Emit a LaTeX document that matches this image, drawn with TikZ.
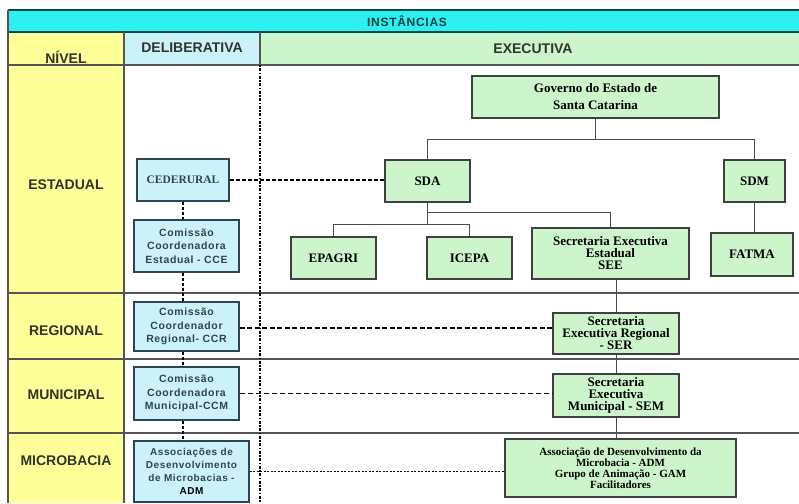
\documentclass[tikz,border=0pt]{standalone}
\usepackage{fontspec}
\setmainfont{Liberation Serif}
\setsansfont{Liberation Sans}
\newfontfamily\delibfont[LetterSpace=6]{Liberation Sans}
\newfontfamily\headfont[LetterSpace=6]{Liberation Sans}
\definecolor{barcyan}{HTML}{2EF0F0}
\definecolor{lightcyan}{HTML}{CBF2F8}
\definecolor{lightgreen}{HTML}{CCF5CC}
\definecolor{lightyellow}{HTML}{FFFF99}
\definecolor{rowline}{HTML}{555555}
\definecolor{labeltext}{HTML}{33332A}
\definecolor{delibtext}{HTML}{2F4452}
\tikzset{
  level/.style={font=\sffamily\bfseries\fontsize{14}{16}\selectfont,text=labeltext},
  delib/.style={draw=delibtext,line width=1.1pt,fill=lightcyan,inner sep=0pt,align=center,
    text=delibtext,font=\delibfont\bfseries\fontsize{10.5}{13.5}\selectfont},
  exec/.style={draw=black!75,line width=1.1pt,fill=lightgreen,inner sep=0pt,align=center,
    font=\rmfamily\bfseries\fontsize{13}{12}\selectfont},
  tree/.style={draw=black!70,line width=1pt},
  link/.style={line width=1.3pt,dash pattern=on 4pt off 2pt},
  chain/.style={line width=1.8pt,dash pattern=on 3pt off 2pt},
}
\begin{document}
\begin{tikzpicture}[x=1pt,y=-1pt]
\useasboundingbox (0,0) rectangle (799,503);
%fundo
\fill[barcyan] (8,10) rectangle (799,32);
\fill[lightyellow] (8,32) rectangle (124,503);
\fill[lightcyan] (124,32) rectangle (260,65);
\fill[lightgreen] (260,32) rectangle (799,65);
\draw[line width=1.5pt,draw=teal!60!black] (8,10) -- (799,10);
\draw[line width=1.5pt,draw=teal!60!black] (8,32) -- (799,32);
\draw[line width=1.5pt,draw=rowline] (8,10) -- (8,503);
\draw[line width=1.5pt,draw=rowline] (124,32) -- (124,503);
\draw[line width=1.2pt,draw=rowline] (260,32) -- (260,65);
\foreach \y in {65,293,359,433}
  \draw[line width=1.5pt,draw=rowline] (8,\y) -- (799,\y);
\draw[line width=1.3pt,dash pattern=on 1.5pt off 1.5pt on 3pt off 1.5pt] (260,65) -- (260,503);
%cabeçalho
\node (inst) at (407,21) {\headfont\bfseries\fontsize{12}{14}\selectfont\textcolor{teal!50!black}{INSTÂNCIAS}};
\node[level] (nivel) at (66,57) {NÍVEL};
\node[level] (delib) at (192,48) {DELIBERATIVA};
\node[level] (exec) at (533,49) {EXECUTIVA};
%níveis
\node[level] (estadual) at (66,185) {ESTADUAL};
\node[level] (regional) at (66,331) {REGIONAL};
\node[level] (municipal) at (66,395) {MUNICIPAL};
\node[level] (microbacia) at (66,461) {MICROBACIA};
%deliberativa
\node[delib,minimum width=92,minimum height=42,font=\rmfamily\bfseries\fontsize{11.5}{13}\selectfont] (ceder) at (183,180) {CEDERURAL};
\node[delib,minimum width=105,minimum height=52] (cce) at (186.5,246) {Comissão\\Coordenadora\\Estadual - CCE};
\node[delib,minimum width=105,minimum height=49] (ccr) at (186.5,326.5) {Comissão\\Coordenador\\Regional- CCR};
\node[delib,minimum width=105,minimum height=53] (ccm) at (186.5,393.5) {Comissão\\Coordenadora\\Municipal-CCM};
\node[delib,minimum width=115,minimum height=61,font=\delibfont\bfseries\fontsize{10}{13}\selectfont] (admd) at (191.5,471.5) {Associações de\\Desenvolvimento\\de Microbacias -\\\textcolor{black}{ADM}};
%executiva
\node[exec,minimum width=247,minimum height=42,font=\rmfamily\bfseries\fontsize{13}{17}\selectfont] (gov) at (595.5,97) {Governo do Estado de\\Santa Catarina};
\node[exec,minimum width=85,minimum height=42] (sda) at (427.5,181) {SDA};
\node[exec,minimum width=61,minimum height=42] (sdm) at (754.5,181) {SDM};
\node[exec,minimum width=85,minimum height=42] (epagri) at (333.5,258) {EPAGRI};
\node[exec,minimum width=85,minimum height=42] (icepa) at (469.5,258) {ICEPA};
\node[exec,minimum width=157,minimum height=51] (see) at (610.5,253.5) {Secretaria Executiva\\Estadual\\SEE};
\node[exec,minimum width=82,minimum height=43] (fatma) at (752,254.5) {FATMA};
\node[exec,minimum width=126,minimum height=41] (ser) at (616,333.5) {Secretaria\\Executiva Regional\\- SER};
\node[exec,minimum width=126,minimum height=43] (sem) at (616,395.5) {Secretaria\\Executiva\\Municipal - SEM};
\node[exec,minimum width=231,minimum height=58,font=\rmfamily\bfseries\fontsize{11}{11}\selectfont] (adme) at (620.5,468) {Associação de Desenvolvimento da\\Microbacia - ADM\\Grupo de Animação - GAM\\Facilitadores};
%árvore
\draw[tree] (gov.south) -- ++(0,21) -| (sda.north);
\draw[tree] (gov.south) ++(0,21) -| (sdm.north);
\draw[tree] (sda.south) |- ++(0,22) -| (epagri.north);
\draw[tree] (sda.south) ++(0,22) -| (icepa.north);
\draw[tree] (sda.south) ++(0,10) -| (see.north);
\draw[tree] (sdm.south) -- (sdm.south |- fatma.north);
\draw[tree] (ser.north) -- (ser.north |- see.south);
\draw[tree] (ser.south) -- (sem.north);
\draw[tree] (sem.south) -- (sem.south |- adme.north);
%ligações
\draw[link] (ceder.east) -- (ceder.east -| sda.west);
\draw[link,line width=1.8pt,dash pattern=on 5pt off 2.5pt] (ccr.east) ++(0,1.5) -- (ser.west |- 0,328);
\draw[link,line width=1pt,dash pattern=on 5pt off 3pt] (ccm.east) -- (ccm.east -| sem.west);
\draw[link,line width=1.2pt,dash pattern=on 2pt off 1.5pt] (admd.east) -- (admd.east -| adme.west);
\draw[chain] (ceder.south) -- (ceder.south |- cce.north);
\draw[chain] (ceder.south |- cce.south) -- (ceder.south |- ccr.north);
\draw[chain] (ceder.south |- ccr.south) -- (ceder.south |- ccm.north);
\draw[chain] (ceder.south |- ccm.south) -- (ceder.south |- admd.north);
\end{tikzpicture}
\end{document}
